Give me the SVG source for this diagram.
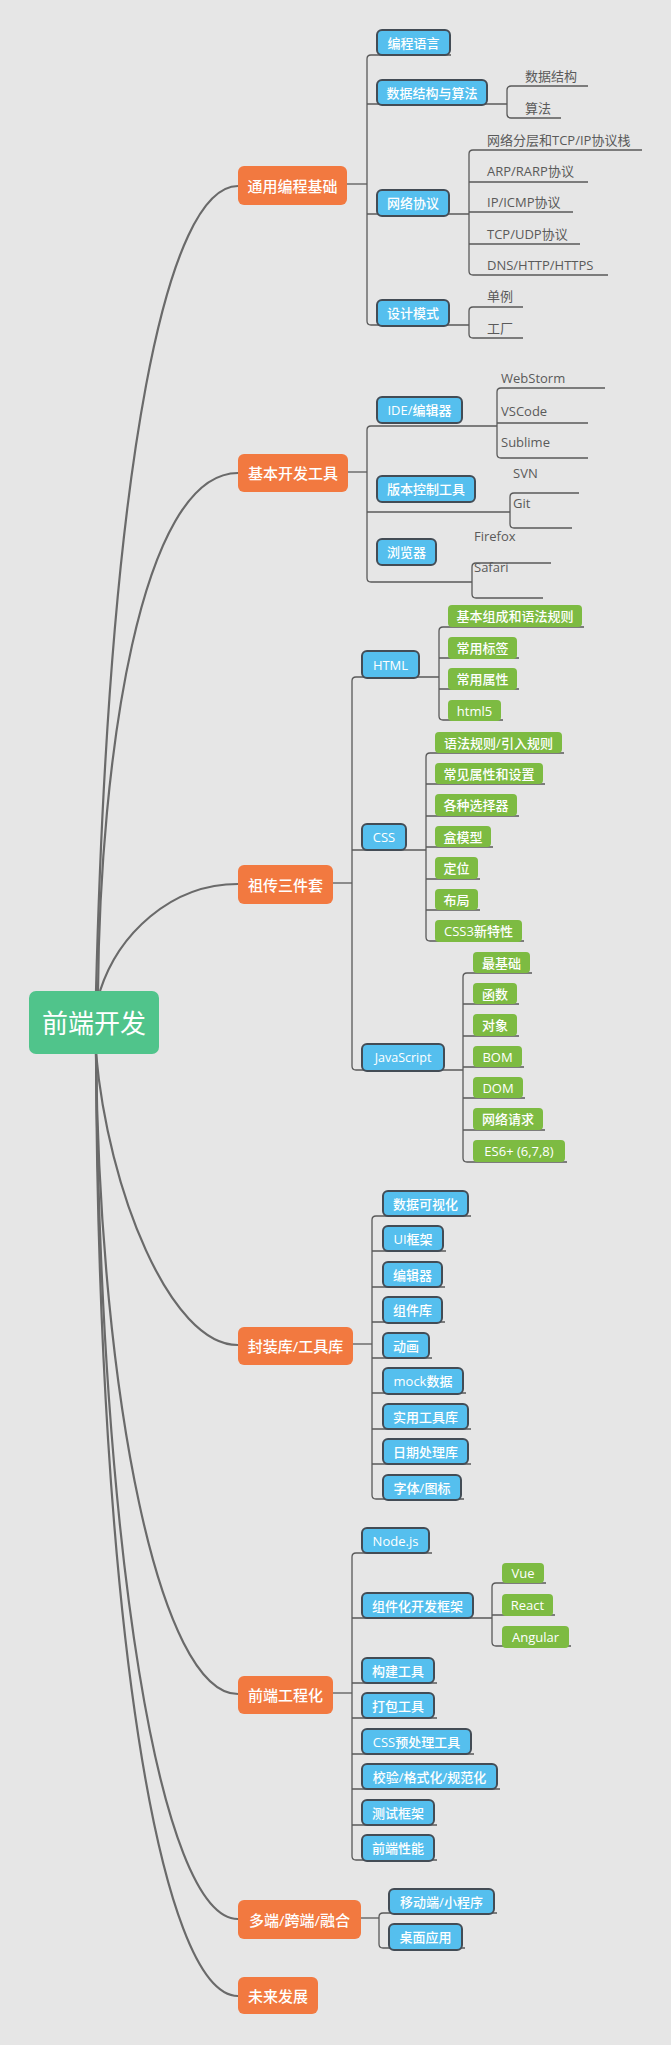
<svg xmlns="http://www.w3.org/2000/svg" width="671" height="2045" viewBox="0 0 671 2045">
<style>
.c{fill:none;stroke:#6a6a6a;stroke-width:2.2}
.l{fill:none;stroke:#5a5a5a;stroke-width:1.3}
.o{fill:#f27940}
.b{fill:#55bfee;stroke:#434c55;stroke-width:2}
.g{fill:#7dbb42}
.r{fill:#50c48b}
text{font-family:"Open Sans","Noto Sans CJK SC",sans-serif}
.tw{fill:#ffffff;font-size:13px;font-weight:500;text-anchor:middle;dominant-baseline:central}
.to{fill:#ffffff;font-size:15px;font-weight:500;text-anchor:middle;dominant-baseline:central}
.tr{fill:#ffffff;font-size:26px;text-anchor:middle;dominant-baseline:central}
.tg{fill:#5a5a5a;font-size:13px}
</style>
<rect x="0" y="0" width="671" height="2045" fill="#e6e6e6"/>
<g id="connectors">
<path class="c" d="M96 991 C110 450 168 186 238 186"/>
<path class="c" d="M98 991 C100 760 140 473 238 473"/>
<path class="c" d="M100 991 C118 935 170 884 238 884"/>
<path class="c" d="M96 1053 C108 1190 170 1345 238 1345"/>
<path class="c" d="M96 1053 C100 1400 160 1694 238 1694"/>
<path class="c" d="M96 1053 C100 1550 160 1919 238 1919"/>
<path class="c" d="M96 1053 C98 1620 160 1996 238 1996"/>
<path class="l" d="M347 184 H367"/>
<path class="l" d="M451 55 H371 Q367 55 367 59 V321 Q367 325 371 325 H469"/>
<path class="l" d="M367 104 H507"/>
<path class="l" d="M367 214 H469"/>
<path class="l" d="M588 86 H511 Q507 86 507 90 V114 Q507 118 511 118 H561"/>
<path class="l" d="M642 150 H473 Q469 150 469 154 V271 Q469 275 473 275 H608"/>
<path class="l" d="M469 182 H588 M469 212 H573 M469 244 H580"/>
<path class="l" d="M523 307 H473 Q469 307 469 311 V334 Q469 338 473 338 H523"/>
<path class="l" d="M348 472 H367"/>
<path class="l" d="M497 426 H371 Q367 426 367 430 V578 Q367 582 371 582 H472"/>
<path class="l" d="M367 512 H510"/>
<path class="l" d="M605 388 H501 Q497 388 497 392 V454 Q497 458 501 458 H588 M497 423 H588"/>
<path class="l" d="M579 493 H514 Q510 493 510 497 V524 Q510 528 514 528 H572"/>
<path class="l" d="M551 563 H476 Q472 563 472 567 V594 Q472 598 476 598 H543"/>
<path class="l" d="M333 883 H352"/>
<path class="l" d="M439 677 H356 Q352 677 352 681 V1066 Q352 1070 356 1070 H463"/>
<path class="l" d="M352 850 H426"/>
<path class="l" d="M584 627 H443 Q439 627 439 631 V716 Q439 720 443 720 H503 M439 658 H519 M439 689 H519"/>
<path class="l" d="M564 753 H430 Q426 753 426 757 V937 Q426 941 430 941 H524 M426 784 H545 M426 816 H519 M426 847 H493 M426 879 H480 M426 910 H480"/>
<path class="l" d="M532 973 H467 Q463 973 463 977 V1158 Q463 1162 467 1162 H567 M463 1004 H519 M463 1036 H519 M463 1067 H524 M463 1098 H525 M463 1130 H545"/>
<path class="l" d="M353 1344 H372"/>
<path class="l" d="M471 1216 H376 Q372 1216 372 1220 V1495 Q372 1499 376 1499 H464"/>
<path class="l" d="M372 1251 H446 M372 1287 H445 M372 1322 H445 M372 1358 H432 M372 1393 H466 M372 1429 H471 M372 1464 H471"/>
<path class="l" d="M333 1693 H352"/>
<path class="l" d="M432 1553 H356 Q352 1553 352 1557 V1856 Q352 1860 356 1860 H437"/>
<path class="l" d="M352 1618 H492 M352 1683 H437 M352 1718 H437 M352 1754 H474 M352 1789 H500 M352 1825 H437"/>
<path class="l" d="M546 1583 H496 Q492 1583 492 1587 V1642 Q492 1646 496 1646 H571 M492 1615 H555"/>
<path class="l" d="M361 1918 H379"/>
<path class="l" d="M497 1913 H383 Q379 1913 379 1917 V1944 Q379 1948 383 1948 H465"/>
</g>
<g id="root"><rect class="r" x="29" y="991" width="130" height="63" rx="7"/><text class="tr" x="94" y="1022.5">前端开发</text></g>
<g id="n-tongyong"><rect class="o" x="238" y="166" width="109" height="39" rx="6"/><text class="to" x="292.5" y="185.5">通用编程基础</text></g>
<g id="n-jiben"><rect class="o" x="238" y="454" width="110" height="38" rx="6"/><text class="to" x="293" y="473">基本开发工具</text></g>
<g id="n-zuchuan"><rect class="o" x="238" y="865" width="95" height="39" rx="6"/><text class="to" x="285.5" y="884.5">祖传三件套</text></g>
<g id="n-fengzhuang"><rect class="o" x="238" y="1327" width="115" height="38" rx="6"/><text class="to" x="295.5" y="1346">封装库/工具库</text></g>
<g id="n-gongcheng"><rect class="o" x="238" y="1676" width="95" height="38" rx="6"/><text class="to" x="285.5" y="1695">前端工程化</text></g>
<g id="n-duoduan"><rect class="o" x="238" y="1900" width="123" height="39" rx="6"/><text class="to" x="299.5" y="1919.5">多端/跨端/融合</text></g>
<g id="n-weilai"><rect class="o" x="238" y="1977" width="80" height="37" rx="6"/><text class="to" x="278" y="1995.5">未来发展</text></g>
<g id="n-bianchengyuyan"><rect class="b" x="377" y="30" width="73" height="25" rx="5"/><text class="tw" x="413.5" y="42.5">编程语言</text></g>
<g id="n-shujujiegou"><rect class="b" x="377" y="80" width="110" height="25" rx="5"/><text class="tw" x="432" y="92.5">数据结构与算法</text></g>
<g id="n-wangluo"><rect class="b" x="377" y="190" width="72" height="26" rx="5"/><text class="tw" x="413" y="203">网络协议</text></g>
<g id="n-sheji"><rect class="b" x="377" y="300" width="72" height="26" rx="5"/><text class="tw" x="413" y="313">设计模式</text></g>
<g id="n-ide"><rect class="b" x="377" y="397" width="85" height="26" rx="5"/><text class="tw" x="419.5" y="410">IDE/编辑器</text></g>
<g id="n-banben"><rect class="b" x="377" y="476" width="98" height="26" rx="5"/><text class="tw" x="426" y="489">版本控制工具</text></g>
<g id="n-liulanqi"><rect class="b" x="377" y="539" width="59" height="26" rx="5"/><text class="tw" x="406.5" y="552">浏览器</text></g>
<g id="n-html"><rect class="b" x="362" y="651" width="57" height="27" rx="5"/><text class="tw" x="390.5" y="664.5">HTML</text></g>
<g id="n-css"><rect class="b" x="362" y="824" width="44" height="26" rx="5"/><text class="tw" x="384" y="837">CSS</text></g>
<g id="n-js"><rect class="b" x="362" y="1044" width="82" height="27" rx="5"/><text class="tw" x="403" y="1057.5" style="font-size:12.5px">JavaScript</text></g>
<g id="n-keshihua"><rect class="b" x="383" y="1191" width="85" height="25" rx="5"/><text class="tw" x="425.5" y="1203.5">数据可视化</text></g>
<g id="n-ui"><rect class="b" x="383" y="1226" width="60" height="25" rx="5"/><text class="tw" x="413" y="1238.5">UI框架</text></g>
<g id="n-bianjiqi"><rect class="b" x="383" y="1262" width="59" height="25" rx="5"/><text class="tw" x="412.5" y="1274.5">编辑器</text></g>
<g id="n-zujianku"><rect class="b" x="383" y="1297" width="59" height="26" rx="5"/><text class="tw" x="412.5" y="1310">组件库</text></g>
<g id="n-donghua"><rect class="b" x="383" y="1333" width="46" height="25" rx="5"/><text class="tw" x="406" y="1345.5">动画</text></g>
<g id="n-mock"><rect class="b" x="383" y="1368" width="80" height="26" rx="5"/><text class="tw" x="423" y="1381">mock数据</text></g>
<g id="n-shiyong"><rect class="b" x="383" y="1404" width="85" height="25" rx="5"/><text class="tw" x="425.5" y="1416.5">实用工具库</text></g>
<g id="n-riqi"><rect class="b" x="383" y="1439" width="85" height="25" rx="5"/><text class="tw" x="425.5" y="1451.5">日期处理库</text></g>
<g id="n-ziti"><rect class="b" x="383" y="1475" width="78" height="25" rx="5"/><text class="tw" x="422" y="1487.5">字体/图标</text></g>
<g id="n-node"><rect class="b" x="362" y="1528" width="67" height="25" rx="5"/><text class="tw" x="395.5" y="1540.5">Node.js</text></g>
<g id="n-zujianhua"><rect class="b" x="362" y="1593" width="111" height="25" rx="5"/><text class="tw" x="417.5" y="1605.5">组件化开发框架</text></g>
<g id="n-goujian"><rect class="b" x="362" y="1658" width="72" height="25" rx="5"/><text class="tw" x="398" y="1670.5">构建工具</text></g>
<g id="n-dabao"><rect class="b" x="362" y="1693" width="72" height="25" rx="5"/><text class="tw" x="398" y="1705.5">打包工具</text></g>
<g id="n-cssyu"><rect class="b" x="362" y="1729" width="109" height="25" rx="5"/><text class="tw" x="416.5" y="1741.5">CSS预处理工具</text></g>
<g id="n-jiaoyan"><rect class="b" x="362" y="1764" width="135" height="25" rx="5"/><text class="tw" x="429.5" y="1776.5">校验/格式化/规范化</text></g>
<g id="n-ceshi"><rect class="b" x="362" y="1800" width="72" height="25" rx="5"/><text class="tw" x="398" y="1812.5">测试框架</text></g>
<g id="n-xingneng"><rect class="b" x="362" y="1835" width="72" height="26" rx="5"/><text class="tw" x="398" y="1848">前端性能</text></g>
<g id="n-yidong"><rect class="b" x="389" y="1889" width="105" height="25" rx="5"/><text class="tw" x="441.5" y="1901.5">移动端/小程序</text></g>
<g id="n-zhuomian"><rect class="b" x="389" y="1924" width="73" height="26" rx="5"/><text class="tw" x="425.5" y="1937">桌面应用</text></g>
<g id="n-h1"><rect class="g" x="448" y="605" width="134" height="22" rx="4"/><text class="tw" x="515" y="616">基本组成和语法规则</text></g>
<g id="n-h2"><rect class="g" x="448" y="637" width="69" height="22" rx="4"/><text class="tw" x="482.5" y="648">常用标签</text></g>
<g id="n-h3"><rect class="g" x="448" y="668" width="69" height="22" rx="4"/><text class="tw" x="482.5" y="679">常用属性</text></g>
<g id="n-h4"><rect class="g" x="448" y="700" width="53" height="21" rx="4"/><text class="tw" x="474.5" y="710.5">html5</text></g>
<g id="n-c1"><rect class="g" x="435" y="732" width="127" height="21" rx="4"/><text class="tw" x="498.5" y="742.5">语法规则/引入规则</text></g>
<g id="n-c2"><rect class="g" x="435" y="763" width="108" height="21" rx="4"/><text class="tw" x="489" y="773.5">常见属性和设置</text></g>
<g id="n-c3"><rect class="g" x="435" y="794" width="82" height="22" rx="4"/><text class="tw" x="476" y="805">各种选择器</text></g>
<g id="n-c4"><rect class="g" x="435" y="826" width="56" height="21" rx="4"/><text class="tw" x="463" y="836.5">盒模型</text></g>
<g id="n-c5"><rect class="g" x="435" y="857" width="43" height="22" rx="4"/><text class="tw" x="456.5" y="868">定位</text></g>
<g id="n-c6"><rect class="g" x="435" y="889" width="43" height="21" rx="4"/><text class="tw" x="456.5" y="899.5">布局</text></g>
<g id="n-c7"><rect class="g" x="435" y="920" width="87" height="22" rx="4"/><text class="tw" x="478.5" y="931">CSS3新特性</text></g>
<g id="n-j1"><rect class="g" x="473" y="952" width="57" height="21" rx="4"/><text class="tw" x="501.5" y="962.5">最基础</text></g>
<g id="n-j2"><rect class="g" x="473" y="983" width="44" height="21" rx="4"/><text class="tw" x="495" y="993.5">函数</text></g>
<g id="n-j3"><rect class="g" x="473" y="1014" width="44" height="22" rx="4"/><text class="tw" x="495" y="1025">对象</text></g>
<g id="n-j4"><rect class="g" x="473" y="1046" width="49" height="21" rx="4"/><text class="tw" x="497.5" y="1056.5">BOM</text></g>
<g id="n-j5"><rect class="g" x="473" y="1077" width="50" height="21" rx="4"/><text class="tw" x="498" y="1087.5">DOM</text></g>
<g id="n-j6"><rect class="g" x="473" y="1108" width="70" height="22" rx="4"/><text class="tw" x="508" y="1119">网络请求</text></g>
<g id="n-j7"><rect class="g" x="473" y="1140" width="92" height="22" rx="4"/><text class="tw" x="519" y="1151">ES6+ (6,7,8)</text></g>
<g id="n-vue"><rect class="g" x="502" y="1563" width="42" height="20" rx="4"/><text class="tw" x="523" y="1573">Vue</text></g>
<g id="n-react"><rect class="g" x="502" y="1594" width="51" height="22" rx="4"/><text class="tw" x="527.5" y="1605">React</text></g>
<g id="n-angular"><rect class="g" x="502" y="1626" width="67" height="22" rx="4"/><text class="tw" x="535.5" y="1637">Angular</text></g>
<g id="leaves">
<text class="tg" x="525" y="81">数据结构</text>
<text class="tg" x="525" y="113">算法</text>
<text class="tg" x="487" y="145">网络分层和TCP/IP协议栈</text>
<text class="tg" x="487" y="176">ARP/RARP协议</text>
<text class="tg" x="487" y="207">IP/ICMP协议</text>
<text class="tg" x="487" y="239">TCP/UDP协议</text>
<text class="tg" x="487" y="270">DNS/HTTP/HTTPS</text>
<text class="tg" x="487" y="301">单例</text>
<text class="tg" x="487" y="333">工厂</text>
<text class="tg" x="501" y="383">WebStorm</text>
<text class="tg" x="501" y="416">VSCode</text>
<text class="tg" x="501" y="447">Sublime</text>
<text class="tg" x="513" y="478">SVN</text>
<text class="tg" x="513" y="508">Git</text>
<text class="tg" x="474" y="541">Firefox</text>
<text class="tg" x="474" y="572">Safari</text>
</g>
</svg>
